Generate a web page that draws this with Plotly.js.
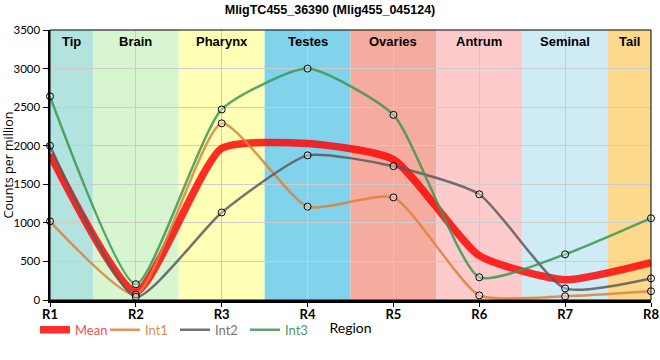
<!DOCTYPE html>
<html>
<head>
<meta charset="utf-8">
<script src="https://cdn.plot.ly/plotly-3.0.1.min.js"></script>
<style>html,body{margin:0;padding:0;background:#fff;}#chart{width:660px;height:360px;}</style>
</head>
<body>
<div id="chart"></div>
<script>
var regions = ['R1','R2','R3','R4','R5','R6','R7','R8'];
var int1 = [1020, 70, 2290, 1210, 1330, 60, 48, 113];
var int2 = [2000, 40, 1135, 1875, 1735, 1370, 150, 280];
var int3 = [2640, 205, 2470, 3000, 2400, 295, 592, 1060];
var meanVals = [1887, 105, 1965, 2028, 1822, 575, 263, 484];
var tissues = ['Tip','Brain','Pharynx','Testes','Ovaries','Antrum','Seminal','Tail'];
var tissueStart = [0, 0.5, 1.5, 2.5, 3.5, 4.5, 5.5, 6.5];
var tissueEnd = [0.5, 1.5, 2.5, 3.5, 4.5, 5.5, 6.5, 7];
var tissueColors = ['#b3e3de','#d7f5cf','#ffffb5','#80d3eb','#f5ab9d','#fdcbcc','#cfebf5','#fdd98d'];

var idx = regions.map(function(r,i){return i;});

var shapes = tissues.map(function(t,i){
  return {type:'rect', xref:'x', yref:'paper', x0:tissueStart[i], x1:tissueEnd[i], y0:0, y1:1,
    fillcolor:tissueColors[i], line:{width:0}, layer:'below'};
});
shapes.push({type:'rect', xref:'paper', yref:'paper', x0:0, x1:1, y0:0, y1:1, line:{color:'#000', width:1}, fillcolor:'rgba(0,0,0,0)'});

var annotations = tissues.map(function(t,i){
  return {text:'<b>'+t+'</b>', xref:'x', yref:'paper', x:(tissueStart[i]+tissueEnd[i])/2, y:1, yanchor:'top', yshift:-2,
    showarrow:false, font:{family:'Liberation Sans, Arial', size:13, color:'#000'}};
});

var mk = {symbol:'circle', size:7, color:'rgba(255,255,255,0.35)', line:{color:'#000', width:1}};
var SM = 0.55;

function lineTrace(y, name, color, width, textColor){
  return {x: idx, y: y, type:'scatter', mode:'lines',
    name:'<span style="color:'+textColor+'">'+name+'</span>',
    line:{shape:'spline', smoothing:SM, color:color, width:width}};
}
function markTrace(y){
  return {x: idx, y: y, type:'scatter', mode:'markers', showlegend:false, marker: mk, cliponaxis:false};
}

var data = [
  lineTrace(meanVals, 'Mean', 'rgba(255,0,0,0.82)', 7.5, '#ff4d4d'),
  lineTrace(int1, 'Int1', 'rgba(222,128,55,0.85)', 2.5, '#e08a45'),
  lineTrace(int2, 'Int2', 'rgba(90,90,90,0.85)', 2.5, '#777777'),
  lineTrace(int3, 'Int3', 'rgba(60,150,80,0.85)', 2.5, '#4c9c5c'),
  markTrace(int1), markTrace(int2), markTrace(int3)
];

var layout = {
  width:660, height:360,
  margin:{l:50, r:9, t:30, b:60},
  paper_bgcolor:'#fff', plot_bgcolor:'#fff',
  title:{text:'<b>MligTC455_36390 (Mlig455_045124)</b>', x:0.5, xanchor:'center', y:0.985, yanchor:'top',
    font:{family:'Liberation Sans, Arial', size:12.5, color:'#000'}},
  xaxis:{range:[0,7], tickvals:idx, ticktext:regions, showgrid:true, gridcolor:'#cccccc', gridwidth:1,
    zeroline:false, showline:true, linecolor:'#000', linewidth:2.5, ticks:'outside', ticklen:4, tickcolor:'#000', tickwidth:1,
    ticklabelstandoff:-3,
    tickfont:{family:'Lato', size:13, color:'#000', weight:'bold'},
    title:{text:'Region', standoff:2, font:{family:'Lato', size:14, color:'#000'}}},
  yaxis:{range:[0,3500], dtick:500, showgrid:true, gridcolor:'#cccccc', gridwidth:1, zeroline:false,
    showline:true, linecolor:'#000', linewidth:2.5, ticks:'outside', ticklen:5, tickcolor:'#000', tickwidth:1,
    tickfont:{family:'Lato', size:11.5, color:'#000'},
    title:{text:'Counts per million', standoff:6, font:{family:'Open Sans', size:12.5, color:'#000'}}},
  shapes:shapes,
  annotations:annotations,
  showlegend:true,
  legend:{orientation:'h', x:-0.025, xanchor:'left', y:-0.11, yanchor:'middle', bgcolor:'rgba(0,0,0,0)',
    font:{family:'Lato', size:13}, itemwidth:30, entrywidth:25, entrywidthmode:'pixels', tracegroupgap:0}
};

Plotly.newPlot('chart', data, layout, {displayModeBar:false, staticPlot:true});
</script>
</body>
</html>
